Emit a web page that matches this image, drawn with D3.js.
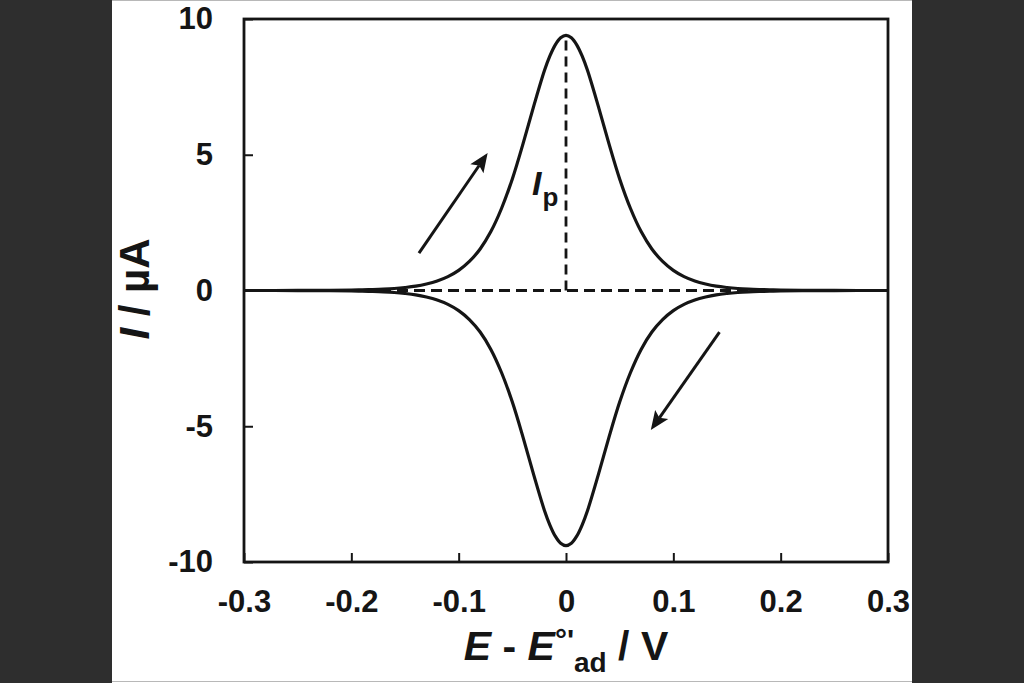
<!DOCTYPE html>
<html>
<head>
<meta charset="utf-8">
<script src="https://cdn.jsdelivr.net/npm/d3@7"></script>
<style>
  html, body { margin: 0; padding: 0; background: #2e2e2e; }
  svg { display: block; }
  text { font-family: "Liberation Sans", Arial, sans-serif; font-weight: bold; fill: #151515; }
</style>
</head>
<body>
<svg id="chart" width="1024" height="683"></svg>
<script>
// ---- data ----
const potential = [-0.30, -0.25, -0.22, -0.20, -0.19, -0.18, -0.17, -0.16, -0.15, -0.14, -0.13, -0.12, -0.11, -0.10,
  -0.09, -0.08, -0.07, -0.06, -0.05, -0.04, -0.03, -0.02, -0.015, -0.01, -0.005, 0,
  0.005, 0.01, 0.015, 0.02, 0.03, 0.04, 0.05, 0.06, 0.07, 0.08, 0.09, 0.10, 0.11, 0.12, 0.13, 0.14,
  0.15, 0.16, 0.17, 0.18, 0.19, 0.20, 0.22, 0.25, 0.30];
const anodicCurrent = [0, 0.002, 0.007, 0.016, 0.023, 0.034, 0.05, 0.074, 0.11, 0.16, 0.24, 0.35, 0.51, 0.74,
  1.07, 1.53, 2.17, 3.03, 4.11, 5.41, 6.80, 8.11, 8.64, 9.05, 9.31, 9.40,
  9.31, 9.05, 8.64, 8.11, 6.80, 5.41, 4.11, 3.03, 2.17, 1.53, 1.07, 0.74, 0.51, 0.35, 0.24, 0.16,
  0.11, 0.074, 0.05, 0.034, 0.023, 0.016, 0.007, 0.002, 0];
const cathodicCurrent = [0, -0.002, -0.007, -0.016, -0.023, -0.034, -0.05, -0.074, -0.11, -0.16, -0.24, -0.35, -0.51, -0.74,
  -1.07, -1.53, -2.17, -3.03, -4.11, -5.41, -6.80, -8.11, -8.64, -9.05, -9.31, -9.40,
  -9.31, -9.05, -8.64, -8.11, -6.80, -5.41, -4.11, -3.03, -2.17, -1.53, -1.07, -0.74, -0.51, -0.35, -0.24, -0.16,
  -0.11, -0.074, -0.05, -0.034, -0.023, -0.016, -0.007, -0.002, 0];
const xTicks = [-0.3, -0.2, -0.1, 0, 0.1, 0.2, 0.3];
const xTickLabels = ["-0.3", "-0.2", "-0.1", "0", "0.1", "0.2", "0.3"];
const yTicks = [-10, -5, 0, 5, 10];
const yTickLabels = ["-10", "-5", "0", "5", "10"];
const peakPotential = 0;
const peakCurrent = 9.4;
// scan direction arrows [E0, I0, E1, I1]
const arrowForward = [-0.137, 1.38, -0.073, 5.06];
const arrowReverse = [0.143, -1.53, 0.079, -5.14];

// ---- layout ----
const svg = d3.select("#chart");
const W = 1024, H = 683;
const panel = { x0: 112, x1: 912 };
const plot = { left: 244, right: 888, top: 19, bottom: 562 };

svg.append("rect").attr("x", 0).attr("y", 0).attr("width", W).attr("height", H).attr("fill", "#2e2e2e");
svg.append("rect").attr("x", panel.x0).attr("y", 0).attr("width", panel.x1 - panel.x0).attr("height", H).attr("fill", "#ffffff");
svg.append("line").attr("x1", panel.x0).attr("x2", panel.x1).attr("y1", 0.5).attr("y2", 0.5).attr("stroke", "#b8b8b8").attr("stroke-width", 1);
svg.append("line").attr("x1", panel.x0).attr("x2", panel.x1).attr("y1", H - 1.5).attr("y2", H - 1.5).attr("stroke", "#b8b8b8").attr("stroke-width", 1);

const x = d3.scaleLinear().domain([-0.3, 0.3]).range([plot.left, plot.right]);
const y = d3.scaleLinear().domain([-10, 10]).range([plot.bottom, plot.top]);

const ink = "#151515";

// x axis
const gx = svg.append("g").attr("transform", `translate(0,${plot.bottom})`)
  .call(d3.axisBottom(x).tickValues(xTicks).tickSize(-9).tickSizeOuter(0).tickPadding(28)
    .tickFormat((d, i) => xTickLabels[i]));
gx.select(".domain").remove();
gx.selectAll(".tick line").attr("stroke", ink).attr("stroke-width", 2);
gx.selectAll(".tick text").attr("font-size", 31).attr("fill", ink)
  .attr("font-family", "'Liberation Sans', Arial, sans-serif").attr("font-weight", "bold");

// y axis
const gy = svg.append("g").attr("transform", `translate(${plot.left},0)`)
  .call(d3.axisLeft(y).tickValues(yTicks).tickSize(-9).tickSizeOuter(0).tickPadding(31)
    .tickFormat((d, i) => yTickLabels[i]));
gy.select(".domain").remove();
gy.selectAll(".tick line").attr("stroke", ink).attr("stroke-width", 2);
gy.selectAll(".tick text").attr("font-size", 31).attr("fill", ink)
  .attr("font-family", "'Liberation Sans', Arial, sans-serif").attr("font-weight", "bold");

// dashed baseline and peak line
svg.append("line")
  .attr("x1", x(-0.3)).attr("x2", x(0.3)).attr("y1", y(0)).attr("y2", y(0))
  .attr("stroke", ink).attr("stroke-width", 2.8).attr("stroke-dasharray", "11,6");
svg.append("line")
  .attr("x1", x(peakPotential)).attr("x2", x(peakPotential)).attr("y1", y(0)).attr("y2", y(peakCurrent))
  .attr("stroke", ink).attr("stroke-width", 2.8).attr("stroke-dasharray", "10,6");

// curves
const line = d3.line().x(d => x(d[0])).y(d => y(d[1])).curve(d3.curveCatmullRom.alpha(0.5));
svg.append("path").datum(potential.map((e, i) => [e, anodicCurrent[i]]))
  .attr("d", line).attr("fill", "none").attr("stroke", ink).attr("stroke-width", 3.2);
svg.append("path").datum(potential.map((e, i) => [e, cathodicCurrent[i]]))
  .attr("d", line).attr("fill", "none").attr("stroke", ink).attr("stroke-width", 3.2);

// frame
svg.append("rect")
  .attr("x", plot.left).attr("y", plot.top)
  .attr("width", plot.right - plot.left).attr("height", plot.bottom - plot.top)
  .attr("fill", "none").attr("stroke", ink).attr("stroke-width", 2.8);

// arrows (shaft + filled head)
[arrowForward, arrowReverse].forEach(a => {
  const x0 = x(a[0]), y0 = y(a[1]), x1 = x(a[2]), y1 = y(a[3]);
  const dx = x1 - x0, dy = y1 - y0, len = Math.hypot(dx, dy);
  const ux = dx / len, uy = dy / len, px = -uy, py = ux;
  const headLen = 19, headHalf = 8, notch = 4;
  const bx = x1 - ux * headLen, by = y1 - uy * headLen;
  svg.append("line")
    .attr("x1", x0).attr("y1", y0).attr("x2", bx + ux * notch).attr("y2", by + uy * notch)
    .attr("stroke", ink).attr("stroke-width", 3);
  svg.append("path")
    .attr("d", `M${x1},${y1} L${bx + px * headHalf},${by + py * headHalf} L${bx + ux * notch},${by + uy * notch} L${bx - px * headHalf},${by - py * headHalf} Z`)
    .attr("fill", ink);
});

// Ip label
const ip = svg.append("text").attr("x", 532).attr("y", 195).attr("font-size", 34);
ip.append("tspan").attr("font-style", "italic").text("I");
ip.append("tspan").attr("font-size", 26).attr("dy", 11).attr("dx", 1).text("p");

// x axis title
const xt = svg.append("text").attr("x", 566).attr("y", 660).attr("text-anchor", "middle").attr("font-size", 41);
xt.append("tspan").attr("font-style", "italic").text("E");
xt.append("tspan").text(" - ");
xt.append("tspan").attr("font-style", "italic").text("E");
xt.append("tspan").attr("font-size", 30).attr("dy", -10).text("°'");
xt.append("tspan").attr("font-size", 28).attr("dy", 22).text("ad");
xt.append("tspan").attr("dy", -12).text(" / V");

// y axis title
const yt = svg.append("text").attr("transform", "translate(149,289) rotate(-90)")
  .attr("text-anchor", "middle").attr("font-size", 42);
yt.append("tspan").attr("font-style", "italic").text("I");
yt.append("tspan").text(" / µA");
</script>
</body>
</html>
